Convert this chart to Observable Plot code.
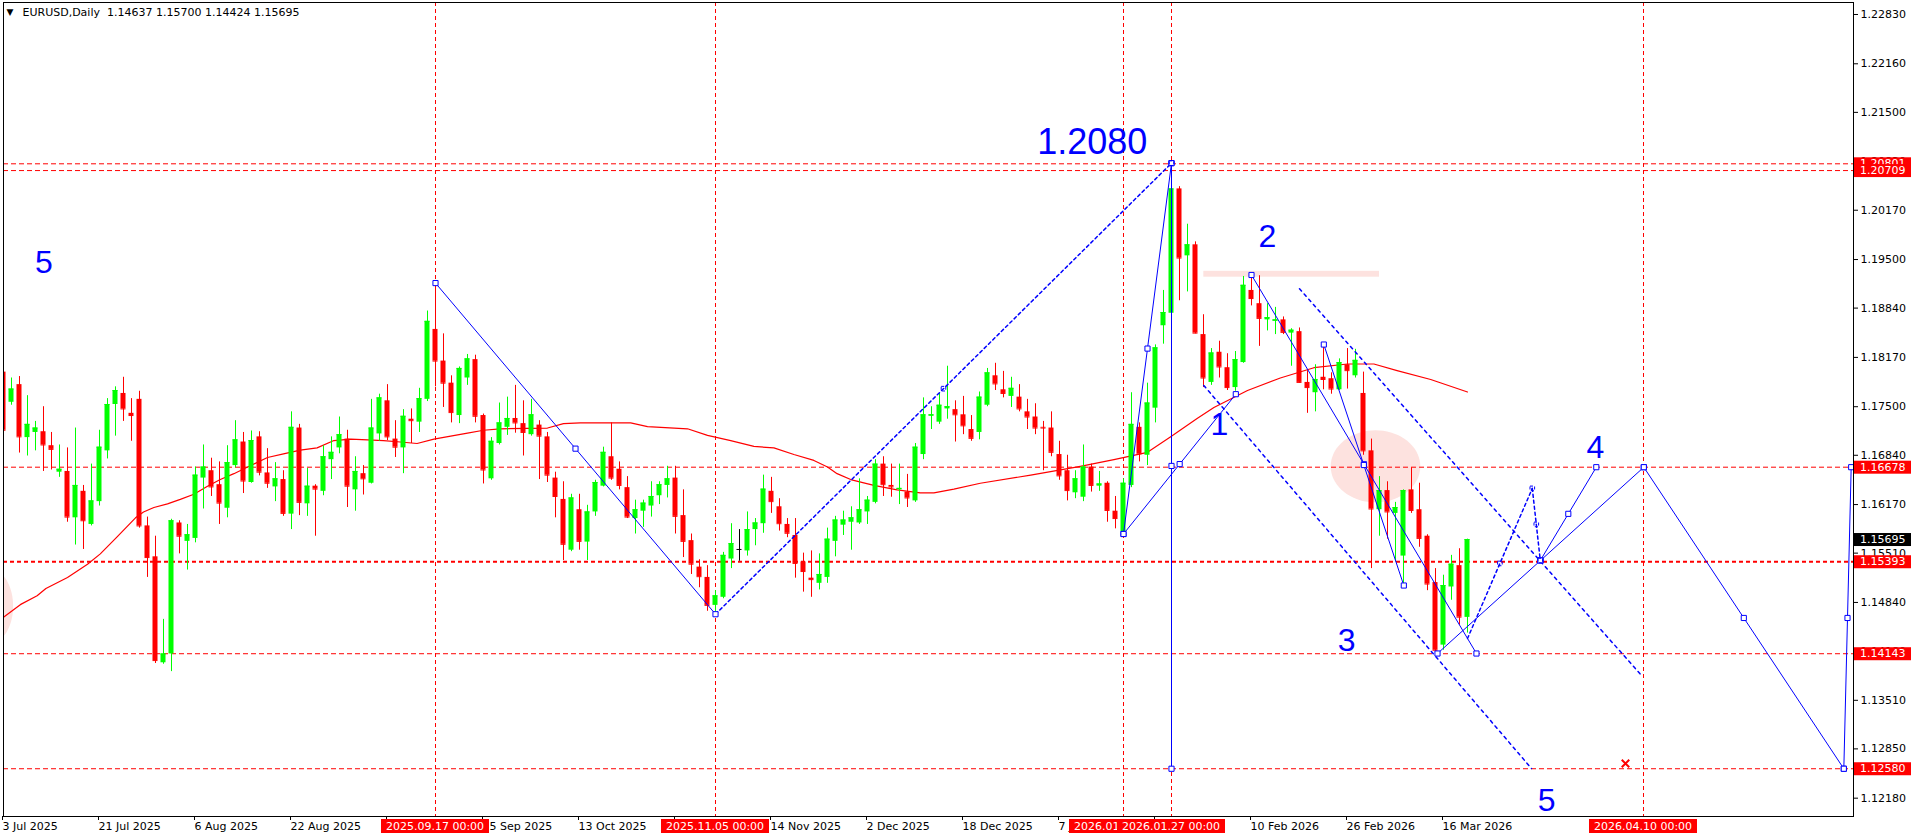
<!DOCTYPE html>
<html>
<head>
<meta charset="utf-8">
<script src="https://cdn.jsdelivr.net/npm/d3@7"></script>
<script src="https://cdn.jsdelivr.net/npm/@observablehq/plot@0.6"></script>
<style>
html,body{margin:0;padding:0;background:#fff;overflow:hidden;}
</style>
</head>
<body>
<div id="chart"></div>
<script>
// ---------- candle data (bar index 0 = 3 Jul 2025, daily bars) ----------
const opens = [
1.1797,1.1756,1.1780,1.1708,1.1715,1.1716,1.1697,1.1661,1.1662,1.1599,
1.1635,1.1590,1.1621,1.1690,1.1753,1.1768,1.1741,1.1760,1.1588,1.1546,
1.1402,1.1414,1.1592,1.1567,1.1571,1.1653,1.1663,1.1644,1.1612,1.1670,
1.1702,1.1647,1.1709,1.1660,1.1641,1.1651,1.1604,1.1721,1.1618,1.1642,
1.1635,1.1678,1.1694,1.1706,1.1637,1.1659,1.1646,1.1713,1.1758,1.1706,
1.1694,1.1733,1.1729,1.1760,1.1855,1.1812,1.1782,1.1738,1.1789,1.1814,
1.1738,1.1652,1.1700,1.1722,1.1734,1.1727,1.1712,1.1725,1.1709,1.1653,
1.1624,1.1555,1.1610,1.1566,1.1607,1.1642,1.1682,1.1665,1.1640,1.1598,
1.1608,1.1615,1.1629,1.1643,1.1653,1.1602,1.1568,1.1532,1.1518,1.1480,
1.1491,1.1543,1.1556,1.1554,1.1583,1.1591,1.1635,1.1614,1.1590,1.1575,
1.1539,1.1517,1.1510,1.1518,1.1567,1.1589,1.1593,1.1592,1.1607,1.1620,
1.1672,1.1643,1.1637,1.1634,1.1622,1.1685,1.1737,1.1729,1.1747,1.1746,
1.1739,1.1719,1.1715,1.1752,1.1792,1.1773,1.1764,1.1763,1.1743,1.1736,
1.1722,1.1721,1.1685,1.1663,1.1633,1.1627,1.1668,1.1642,1.1646,1.1608,
1.1580,1.1643,1.1722,1.1684,1.1748,1.1860,1.1877,1.2046,1.1955,1.1970,
1.1848,1.1783,1.1824,1.1803,1.1776,1.1810,1.1908,1.1890,1.1868,1.1866,
1.1868,1.1850,1.1852,1.1783,1.1769,1.1790,1.1788,1.1773,1.1807,1.1792,
1.1768,1.1690,1.1610,1.1636,1.1605,1.1547,1.1637,1.1610,1.1574,1.1511,
1.1426,1.1505,1.1534,1.14637];
const highs = [
1.1811,1.1789,1.1791,1.1765,1.1730,1.1750,1.1715,1.1698,1.1694,1.1721,
1.1643,1.1672,1.1718,1.1761,1.1777,1.1790,1.1761,1.1771,1.1600,1.1574,
1.1461,1.1597,1.1595,1.1590,1.1668,1.1698,1.1680,1.1675,1.1697,1.1731,
1.1715,1.1717,1.1716,1.1693,1.1674,1.1663,1.1743,1.1726,1.1666,1.1644,
1.1697,1.1709,1.1736,1.1718,1.1682,1.1670,1.1760,1.1767,1.1780,1.1731,
1.1746,1.1747,1.1775,1.1880,1.1918,1.1849,1.1792,1.1804,1.1821,1.1820,
1.1740,1.1708,1.1755,1.1763,1.1779,1.1758,1.1760,1.1731,1.1715,1.1661,
1.1648,1.1631,1.1631,1.1616,1.1650,1.1695,1.1728,1.1675,1.1655,1.1623,
1.1623,1.1648,1.1648,1.1669,1.1669,1.1637,1.1577,1.1542,1.1534,1.1500,
1.1552,1.1591,1.1583,1.1607,1.1598,1.1657,1.1654,1.1625,1.1598,1.1598,
1.1551,1.1554,1.1550,1.1585,1.1601,1.1608,1.1614,1.1652,1.1628,1.1678,
1.1682,1.1672,1.1672,1.1658,1.1700,1.1762,1.1750,1.1768,1.1805,1.1758,
1.1764,1.1738,1.1770,1.1802,1.1809,1.1798,1.1790,1.1780,1.1760,1.1754,
1.1730,1.1743,1.1703,1.1684,1.1663,1.1698,1.1672,1.1662,1.1648,1.1628,
1.1652,1.1769,1.1728,1.1782,1.1834,1.1908,1.2081,1.2049,1.1998,1.1974,
1.1875,1.1829,1.1839,1.1822,1.1825,1.1927,1.1929,1.1928,1.1890,1.1885,
1.1872,1.1856,1.1857,1.1799,1.1807,1.1834,1.1796,1.1815,1.1829,1.1828,
1.1797,1.1706,1.1655,1.1648,1.1620,1.1637,1.1667,1.1646,1.1576,1.1530,
1.1521,1.1548,1.1557,1.15700];
const lows = [
1.1716,1.1752,1.1687,1.1683,1.1690,1.1662,1.1664,1.1654,1.1593,1.1562,
1.1556,1.1588,1.1615,1.1679,1.1710,1.1730,1.1703,1.1585,1.1518,1.1401,
1.1400,1.1390,1.1550,1.1528,1.1565,1.1611,1.1628,1.1590,1.1599,1.1667,
1.1632,1.1646,1.1656,1.1639,1.1621,1.1601,1.1583,1.1602,1.1601,1.1574,
1.1629,1.1651,1.1686,1.1613,1.1608,1.1630,1.1645,1.1703,1.1704,1.1681,
1.1659,1.1700,1.1715,1.1757,1.1777,1.1749,1.1728,1.1727,1.1779,1.1728,
1.1645,1.1650,1.1698,1.1711,1.1714,1.1683,1.1710,1.1651,1.1647,1.1599,
1.1541,1.1553,1.1555,1.1541,1.1601,1.1641,1.1650,1.1637,1.1598,1.1577,
1.1586,1.1600,1.1617,1.1626,1.1577,1.1545,1.1522,1.1504,1.1472,1.1468,
1.1489,1.1530,1.1540,1.1547,1.1561,1.1578,1.1605,1.1581,1.1572,1.1517,
1.1498,1.1491,1.1501,1.1510,1.1546,1.1575,1.1555,1.1590,1.1590,1.1618,
1.1628,1.1627,1.1617,1.1613,1.1620,1.1678,1.1719,1.1726,1.1733,1.1702,
1.1712,1.1703,1.1705,1.1750,1.1772,1.1762,1.1749,1.1743,1.1719,1.1712,
1.1663,1.1682,1.1650,1.1622,1.1625,1.1621,1.1634,1.1635,1.1593,1.1584,
1.1577,1.1640,1.1675,1.1670,1.1728,1.1835,1.1875,1.1894,1.1906,1.1849,
1.1776,1.1779,1.1789,1.1772,1.1771,1.1809,1.1887,1.1832,1.1853,1.1848,
1.1848,1.1805,1.1782,1.1741,1.1743,1.1773,1.1767,1.1772,1.1774,1.1789,
1.1684,1.1530,1.1574,1.1570,1.1539,1.1507,1.1605,1.1559,1.1500,1.1414,
1.1419,1.1487,1.1453,1.14424];
const closes = [
1.1718,1.1774,1.1709,1.1726,1.1721,1.1698,1.1692,1.1665,1.1600,1.1643,
1.1595,1.1622,1.1695,1.1753,1.1772,1.1747,1.1738,1.1588,1.1545,1.1405,
1.1414,1.1595,1.1574,1.1576,1.1657,1.1668,1.1641,1.1619,1.1674,1.1705,
1.1649,1.1704,1.1661,1.1646,1.1652,1.1605,1.1722,1.1620,1.1642,1.1638,
1.1682,1.1688,1.1712,1.1642,1.1662,1.1652,1.1721,1.1762,1.1709,1.1695,
1.1737,1.1731,1.1761,1.1866,1.1812,1.1782,1.1742,1.1802,1.1815,1.1737,
1.1664,1.1703,1.1728,1.1734,1.1728,1.1715,1.1739,1.1710,1.1657,1.1628,
1.1563,1.1626,1.1567,1.1607,1.1647,1.1688,1.1653,1.1643,1.1600,1.1610,
1.1619,1.1628,1.1644,1.1652,1.1601,1.1567,1.1536,1.1519,1.1480,1.1493,
1.1548,1.1564,1.1556,1.1583,1.1592,1.1638,1.1621,1.1591,1.1578,1.1537,
1.1526,1.1515,1.1522,1.1570,1.1596,1.1596,1.1599,1.1610,1.1623,1.1672,
1.1644,1.1641,1.1639,1.1626,1.1695,1.1739,1.1739,1.1752,1.1750,1.1739,
1.1724,1.1707,1.1763,1.1796,1.1781,1.1768,1.1775,1.1747,1.1736,1.1721,
1.1721,1.1688,1.1656,1.1636,1.1652,1.1668,1.1643,1.1645,1.1609,1.1598,
1.1646,1.1726,1.1686,1.1755,1.1830,1.1878,1.2046,1.1952,1.1970,1.1850,
1.1789,1.1823,1.1804,1.1776,1.1814,1.1915,1.1897,1.1870,1.1871,1.1868,
1.1851,1.1854,1.1783,1.1776,1.1787,1.1787,1.1774,1.1810,1.1799,1.1813,
1.1690,1.1611,1.1636,1.1607,1.1613,1.1636,1.1609,1.1571,1.1509,1.1419,
1.1507,1.1536,1.1464,1.15695];

// moving average (bar index, value)
const maIdx = [0,2.1,4.2,5.3,8,10.5,12.1,14.2,16.5,17.5,18.8,20.5,22.1,23.8,25.5,27.1,28.8,30.9,33,35,37.1,39.2,41.3,43.4,45.5,47.5,49.6,51.7,53.8,55.9,58,60,62.1,68,70,72.1,78.4,80.5,85.5,88,90.9,93.8,96.3,98.8,101.3,103,104.2,105.9,108.8,111.7,114.6,116.3,118.8,122.1,128.4,134.6,138.8,143,145.9,149.2,151.3,155.5,159.6,163.8,168,171.3,174.2,178.4,183];
const maVal = [1.1464,1.1481,1.1493,1.1503,1.1518,1.1536,1.1550,1.1573,1.1599,1.1607,1.1613,1.1618,1.1624,1.1631,1.1642,1.1651,1.1659,1.1670,1.1681,1.1686,1.1691,1.1694,1.1704,1.1706,1.1705,1.1704,1.1702,1.1700,1.1706,1.1710,1.1714,1.1718,1.1720,1.1721,1.1727,1.1728,1.1728,1.1723,1.1720,1.1711,1.1704,1.1696,1.1694,1.1685,1.1677,1.1668,1.1659,1.1651,1.1643,1.1637,1.1633,1.1633,1.1638,1.1646,1.1657,1.1669,1.1678,1.1688,1.1709,1.1734,1.1749,1.1772,1.1789,1.1803,1.1808,1.1808,1.1799,1.1787,1.1770];

// axes
const xTickIdx = [0,12,24,36,48,60,72,84,96,108,120,132,144,156,168,180];
const xTickLabels = ["3 Jul 2025","21 Jul 2025","6 Aug 2025","22 Aug 2025","9 Sep 2025","25 Sep 2025","13 Oct 2025","29 Oct 2025","14 Nov 2025","2 Dec 2025","18 Dec 2025","7 Jan 2026","23 Jan 2026","10 Feb 2026","26 Feb 2026","16 Mar 2026"];
const yTicks = [1.22830,1.22160,1.21500,1.20830,1.20170,1.19500,1.18840,1.18170,1.17500,1.16840,1.16170,1.15510,1.14840,1.14180,1.13510,1.12850,1.12180];

// horizontal & vertical levels
const levelPrices = [1.20801,1.20709,1.16678,1.14143,1.12580];
const boldLevel = [1.15393];
const vlineIdx = [54,89,140,146,205];
const vlineLabels = ["2025.09.17 00:00","2025.11.05 00:00","2026.01.19 00:00","2026.01.27 00:00","2026.04.10 00:00"];
const priceTags = [1.20801,1.20709,1.16678,1.15393,1.14143,1.12580];
const lastPrice = 1.15695;

// wave drawing objects (bar index, price)
const lineA = [[54,1.1918],[89,1.1468]];
const lineB = [[89,1.1468],[146,1.2081]];          // dotted
const lineC = [[140,1.1577],[146,1.2081]];
const lineD = [[140,1.1577],[154.04,1.1767]];
const lineV = [[146,1.2081],[146,1.1258]];
const lineE = [[156,1.1929],[184.12,1.14146]];
const lineF = [[165.04,1.18345],[175.04,1.1507]];
const lineG = [[179.25,1.14146],[205.04,1.16678]];
const lineH = [[192.1,1.1541],[199.1,1.16678]];
const lineI = [[205.04,1.16678],[230.04,1.1258]];
const lineJ = [[230.04,1.1258],[230.96,1.16678]];
const dottedK = [[183,1.1435],[191.1,1.1639]];
const dottedL = [[191.1,1.1639],[192.1,1.1541]];
const channelUp = [[162,1.19102],[204.75,1.13847]];
const channelLo = [[150.04,1.17788],[191,1.12583]];

const zoneRect = {x1:150.04, x2:172, y1:1.1934, y2:1.1926};
const blobs = [{cx:171.5, cy:1.1669, rx:5.6, ry:0.0049},{cx:-1.6, cy:1.1479, rx:2.8, ry:0.0050}];

const waveText = ["5","1.2080","2","1","3","4","5"];
const waveTextIdx = [5.06,136.1,158,152,167.9,199,192.9];
const waveTextPrice = [1.1946,1.2109,1.1981,1.1726,1.1432,1.1694,1.1215];
const waveTextSize = [32,36,32,32,32,32,32];
const crossMark = [[202.75,1.12651]];

const header = "EURUSD,Daily  1.14637 1.15700 1.14424 1.15695";

// ---------- build ----------
const RED = "#ff0000", BLUE = "#0000ff", LIME = "#00ff00";
const candles = opens.map((o, i) => ({i, o, h: highs[i], l: lows[i], c: closes[i]}));
const candleColor = d => d.c > d.o ? LIME : d.c < d.o ? RED : "#000000";
const toPts = (arr, id) => arr.map(([x, y]) => ({x, y, id}));
const solidLines = [lineA, lineC, lineD, lineV, lineE, lineF, lineG, lineH, lineI, lineJ];
const solidPts = solidLines.flatMap((l, k) => toPts(l, "s" + k));
const withMid = l => [l[0], l[1], [(l[0][0] + l[1][0]) / 2, (l[0][1] + l[1][1]) / 2]];
const solidHandles = solidLines.flatMap(withMid).map(([x, y]) => ({x, y}));
const dottedHandles = [lineB, dottedK, dottedL].flatMap(l => withMid(l).slice(1)).map(([x, y]) => ({x, y}));
const dottedPts = [lineB, dottedK, dottedL].flatMap((l, k) => toPts(l, "d" + k));
const channelPts = [channelUp, channelLo].flatMap((l, k) => toPts(l, "c" + k));
const blobPts = blobs.flatMap((e, k) => d3.range(72).map(j => {
  const t = j / 72 * 2 * Math.PI;
  return {id: k, x: e.cx + e.rx * Math.cos(t), y: e.cy + e.ry * Math.sin(t)};
}));
const maPts = maIdx.map((x, k) => ({x, y: maVal[k]}));
const waveLabels = waveText.map((t, k) => ({t, x: waveTextIdx[k], y: waveTextPrice[k], s: waveTextSize[k]}));
const tickLabelOf = new Map(xTickIdx.map((d, k) => [d, xTickLabels[k]]));

const chart = Plot.plot({
  width: 1916, height: 840,
  marginLeft: 3, marginRight: 63, marginTop: 2, marginBottom: 24,
  x: {domain: [0, 231.25], axis: null},
  y: {domain: [1.11931, 1.22993], axis: null},
  color: {type: "identity"},
  style: {fontFamily: "DejaVu Sans", fontSize: "11px", background: "white", color: "black", overflow: "visible"},
  marks: [
    Plot.rect([zoneRect], {x1: "x1", x2: "x2", y1: "y1", y2: "y2", fill: "#fde2df"}),
    Plot.line(blobPts, {x: "x", y: "y", z: "id", fill: "#fde2df", stroke: null, curve: "linear-closed", clip: true}),
    Plot.ruleY(levelPrices, {y: d => d, stroke: RED, strokeDasharray: "5,3"}),
    Plot.ruleY(boldLevel, {y: d => d, stroke: RED, strokeWidth: 2, strokeDasharray: "4,3"}),
    Plot.ruleX(vlineIdx, {x: d => d, stroke: RED, strokeDasharray: "4,3"}),
    Plot.line(maPts, {x: "x", y: "y", stroke: RED, strokeWidth: 1.2, clip: true}),
    Plot.ruleX(candles, {x: "i", y1: "l", y2: "h", stroke: candleColor, strokeWidth: 1, clip: true}),
    Plot.rect(candles, {x1: d => d.i - 0.3125, x2: d => d.i + 0.3125, y1: "o", y2: "c", fill: candleColor, clip: true}),
    Plot.ruleY(candles, {x1: d => d.i - 0.3125, x2: d => d.i + 0.3125, y: "c", stroke: candleColor, clip: true}),
    Plot.line(channelPts, {x: "x", y: "y", z: "id", stroke: BLUE, strokeDasharray: "3,4", clip: true}),
    Plot.line(dottedPts, {x: "x", y: "y", z: "id", stroke: BLUE, strokeDasharray: "3,3", clip: true}),
    Plot.line(solidPts, {x: "x", y: "y", z: "id", stroke: BLUE, strokeWidth: 1, clip: true}),
    Plot.dot(solidHandles, {x: "x", y: "y", symbol: "square", r: 2.9, fill: "white", stroke: BLUE, strokeWidth: 1}),
    Plot.dot(dottedHandles, {x: "x", y: "y", symbol: "square", r: 2.6, fill: "none", stroke: BLUE, strokeWidth: 1, strokeDasharray: "3,2"}),
    Plot.text(waveLabels, {x: "x", y: "y", text: "t", fill: BLUE, fontSize: d => d.s, fontFamily: "Liberation Sans", textAnchor: "middle"}),
    Plot.dot(crossMark, {x: d => d[0], y: d => d[1], symbol: "times", r: 3.5, stroke: RED, strokeWidth: 2}),
    Plot.frame({stroke: "black"}),
    Plot.axisY(yTicks, {anchor: "right", tickFormat: d => d.toFixed(5), tickSize: 4, tickPadding: 3, label: null, fontSize: 11}),
    Plot.axisX(xTickIdx, {anchor: "bottom", tickFormat: d => tickLabelOf.get(d), tickSize: 4, tickPadding: 2, textAnchor: "start", dx: -1, label: null, fontSize: 11}),
    Plot.text([header], {frameAnchor: "top-left", dx: 19, dy: 6, text: d => d, lineAnchor: "top", textAnchor: "start", fontSize: 11, fill: "black"}),
    Plot.text(["▼"], {frameAnchor: "top-left", dx: 3, dy: 6, text: d => d, lineAnchor: "top", textAnchor: "start", fontSize: 9, fill: "black"})
  ]
});

// ---------- axis tags drawn with the plot's own scales ----------
const sx = chart.scale("x"), sy = chart.scale("y");
const fx = sx.apply ? v => sx.apply(v) : d3.scaleLinear(sx.domain, sx.range);
const fy = sy.apply ? v => sy.apply(v) : d3.scaleLinear(sy.domain, sy.range);
const W = 1916, H = 840, mR = 63, mB = 24;
const g = d3.select(chart).append("g")
  .attr("font-family", "DejaVu Sans").attr("font-size", 11).attr("text-anchor", "start");
function priceTag(p, bg) {
  const y = fy(p);
  g.append("rect").attr("x", W - mR + 1).attr("y", y - 6).attr("width", 57).attr("height", 13).attr("fill", bg);
  g.append("text").attr("x", W - mR + 7).attr("y", y + 0.5).attr("text-anchor", "start")
    .attr("dominant-baseline", "central").attr("fill", "white").text(p.toFixed(5));
}
priceTags.forEach(p => priceTag(p, RED));
priceTag(lastPrice, "#000000");
vlineIdx.forEach((d, k) => {
  const x = fx(d);
  g.append("rect").attr("x", x - 54).attr("y", H - mB + 3).attr("width", 108).attr("height", 14).attr("fill", RED);
  g.append("text").attr("x", x).attr("y", H - mB + 10.5).attr("text-anchor", "middle")
    .attr("dominant-baseline", "central").attr("fill", "white").text(vlineLabels[k]);
});
document.getElementById("chart").appendChild(chart);
</script>
</body>
</html>
